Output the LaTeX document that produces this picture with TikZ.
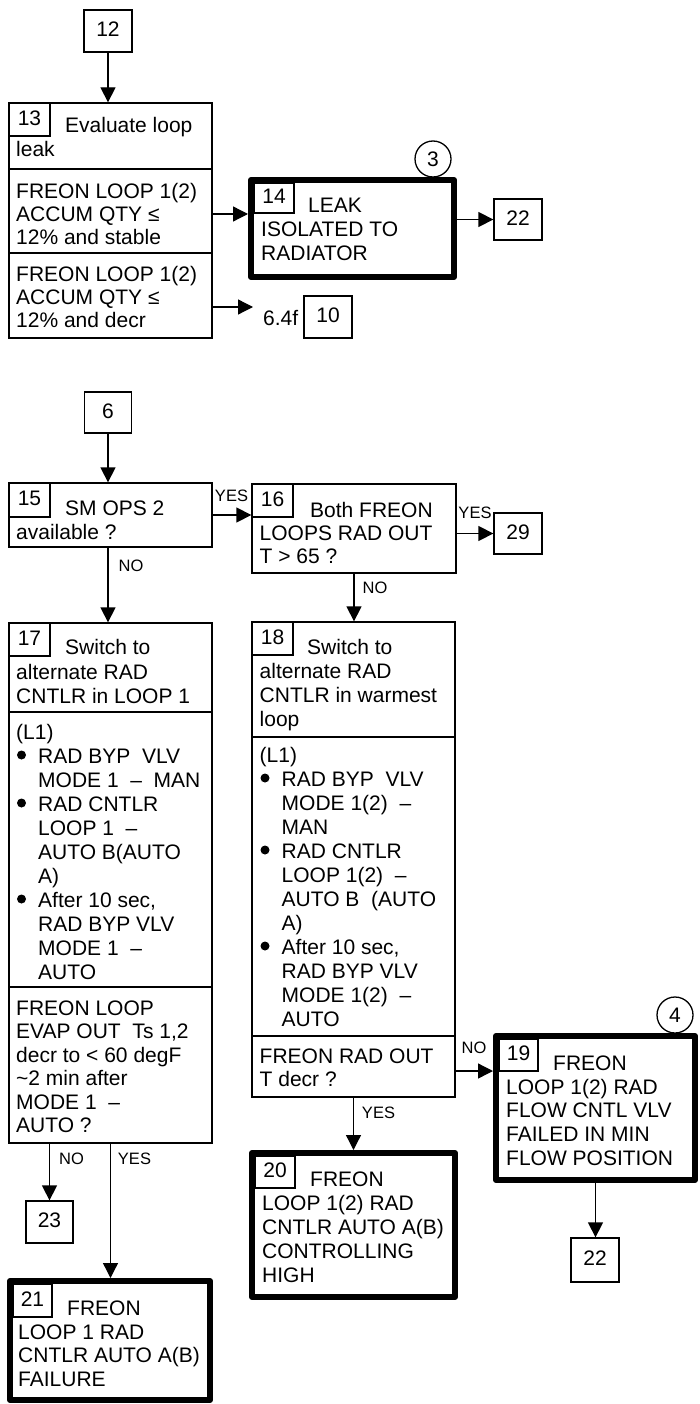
\documentclass[tikz,border=0pt]{standalone}
\usepackage{fontspec}
\setmainfont{Liberation Sans}
\usetikzlibrary{arrows.meta}
\newcommand{\ls}[1]{\begin{tabular}[t]{@{}l@{}}#1\end{tabular}}
\newcommand{\ind}{\hspace*{22pt}}
\begin{document}
\begin{tikzpicture}[x=1pt,y=-1pt,
  font=\fontsize{21}{24}\selectfont,
  box/.style={draw, line width=1.3pt, rectangle, inner sep=0pt, text depth=3pt},
  heavybox/.style={draw, line width=6pt, line join=round, rectangle, inner sep=0pt},
  txt/.style={anchor=base west, inner sep=0pt},
  lbl/.style={font=\fontsize{16.5}{18}\selectfont, inner sep=0pt},
  arr/.style={line width=1.3pt, -{Triangle[length=15pt,width=15pt]}},
  circ/.style={draw, circle, line width=1.3pt, minimum size=36pt, inner sep=0pt},
  dot/.style={fill=black}]
\useasboundingbox (0,0) rectangle (699,1404);
\fill[white] (0,0) rectangle (699,1404);

% ---------- top part ----------
\node[box, minimum width=48pt, minimum height=42pt] (b12) at (108,31) {12};
\node[box, minimum width=203pt, minimum height=66pt] (b13a) at (110.5,136) {};
\node[box, minimum width=203pt, minimum height=84pt] (b13b) at (110.5,211) {};
\node[box, minimum width=203pt, minimum height=85pt] (b13c) at (110.5,295.5) {};
\node[box, minimum width=41pt, minimum height=33pt] (n13) at (29.5,119.5) {13};
\node[txt] (t13a) at (65,133) {Evaluate loop};
\node[txt] (t13a2) at (16,157) {leak};
\node[txt] (t13b) at (16,199) {\fontsize{21}{23}\selectfont\ls{FREON LOOP 1(2)\\ ACCUM QTY ≤\\ 12\% and stable}};
\node[txt] (t13c) at (16,282) {\fontsize{21}{23}\selectfont\ls{FREON LOOP 1(2)\\ ACCUM QTY ≤\\ 12\% and decr}};

\node[circ] (c3) at (433,159) {3};
\node[heavybox, minimum width=203pt, minimum height=97pt] (b14) at (352.5,228.5) {};
\node[box, minimum width=40pt, minimum height=30pt] (n14) at (274,198) {14};
\node[txt] (t14) at (308,213) {LEAK};
\node[txt] (t14b) at (261,237) {\fontsize{21}{23.5}\selectfont\ls{ISOLATED TO\\ RADIATOR}};
\node[box, minimum width=48pt, minimum height=41pt] (b22a) at (518,219.5) {22};

\node[txt] (t64) at (263,325) {6.4f};
\node[box, minimum width=48pt, minimum height=42pt] (b10) at (328,317) {10};
\coordinate (e10) at (253,307);

\draw[arr] (b12.south) -- (b12.south |- b13a.north);
\draw[arr] ([yshift=-3pt]b13b.east) -- ([yshift=-3pt]b13b.east -| b14.west);
\draw[arr] (b13c.east |- e10) -- (e10);
\draw[arr] (b14.east |- b22a.west) -- (b22a.west);

% ---------- lower part ----------
\node[box, minimum width=47pt, minimum height=41pt] (b6) at (108,412.5) {6};
\node[box, minimum width=203pt, minimum height=64pt] (b15) at (110.5,515) {};
\node[box, minimum width=41pt, minimum height=34pt] (n15) at (29.5,500) {15};
\node[txt] (t15) at (65,515) {SM OPS 2};
\node[txt] (t15b) at (16,539) {available ?};

\node[box, minimum width=204pt, minimum height=89pt] (b16) at (354,528.5) {};
\node[box, minimum width=41pt, minimum height=33pt] (n16) at (272.5,500.5) {16};
\node[txt] (t16) at (310,517) {Both FREON};
\node[txt] (t16b) at (259.5,540) {\fontsize{21}{23}\selectfont\ls{LOOPS RAD OUT\\ T > 65 ?}};
\node[box, minimum width=48pt, minimum height=41pt] (b29) at (518,533.5) {29};

% box 17
\node[box, minimum width=203pt, minimum height=89pt] (b17a) at (110.5,667.5) {};
\node[box, minimum width=203pt, minimum height=275pt] (b17b) at (110.5,849.5) {};
\node[box, minimum width=203pt, minimum height=156pt] (b17c) at (110.5,1065) {};
\node[box, minimum width=41pt, minimum height=33pt] (n17) at (29.5,639.5) {17};
\node[txt] (t17) at (65,654) {Switch to};
\node[txt] (t17a) at (16,679) {\ls{alternate RAD\\ CNTLR in LOOP 1}};
\node[txt] (t17b) at (16,739) {\ls{(L1)\\ \ind RAD BYP\ \ VLV\\ \ind MODE 1\ \ –\ \ MAN\\ \ind RAD CNTLR\\ \ind LOOP 1\ \ –\\ \ind AUTO B(AUTO\\ \ind A)\\ \ind After 10 sec,\\ \ind RAD BYP VLV\\ \ind MODE 1\ \ –\\ \ind AUTO}};
\fill[dot] (21.5,755) circle (4.5pt);
\fill[dot] (21.5,803) circle (4.5pt);
\fill[dot] (21.5,899) circle (4.5pt);
\node[txt] (t17c) at (16,1015) {\fontsize{21}{23.5}\selectfont\ls{FREON LOOP\\ EVAP OUT\ \ Ts 1,2\\ decr to < 60 degF\\ \textasciitilde 2 min after\\ MODE 1\ \ –\\ AUTO ?}};

% box 18
\node[box, minimum width=203pt, minimum height=115pt] (b18a) at (353.5,679.5) {};
\node[box, minimum width=203pt, minimum height=299pt] (b18b) at (353.5,886.5) {};
\node[box, minimum width=203pt, minimum height=61pt] (b18c) at (353.5,1066.5) {};
\node[box, minimum width=41pt, minimum height=33pt] (n18) at (272.5,638.5) {18};
\node[txt] (t18) at (307,654) {Switch to};
\node[txt] (t18a) at (259.5,678) {\ls{alternate RAD\\ CNTLR in warmest\\ loop}};
\node[txt] (t18b) at (259.5,762) {\ls{(L1)\\ \ind RAD BYP\ \ VLV\\ \ind MODE 1(2)\ \ –\\ \ind MAN\\ \ind RAD CNTLR\\ \ind LOOP 1(2)\ \ –\\ \ind AUTO B\ \ (AUTO\\ \ind A)\\ \ind After 10 sec,\\ \ind RAD BYP VLV\\ \ind MODE 1(2)\ \ –\\ \ind AUTO}};
\fill[dot] (265,778) circle (4.5pt);
\fill[dot] (265,850) circle (4.5pt);
\fill[dot] (265,946) circle (4.5pt);
\node[txt] (t18c) at (259.5,1063) {\fontsize{21}{23}\selectfont\ls{FREON RAD OUT\\ T decr ?}};

% box 19
\node[circ] (c4) at (675,1015) {4};
\node[heavybox, minimum width=199pt, minimum height=144pt] (b19) at (595.5,1108) {};
\node[box, minimum width=39pt, minimum height=32pt] (n19) at (518.5,1055) {19};
\node[txt] (t19) at (553,1070) {FREON};
\node[txt] (t19b) at (506,1094) {\fontsize{21}{23.7}\selectfont\ls{LOOP 1(2) RAD\\ FLOW CNTL VLV\\ FAILED IN MIN\\ FLOW POSITION}};
\node[box, minimum width=48pt, minimum height=44pt] (b22b) at (595,1260) {22};

% box 20
\node[heavybox, minimum width=203pt, minimum height=144pt] (b20) at (353.5,1225) {};
\node[box, minimum width=40pt, minimum height=32pt] (n20) at (275,1172) {20};
\node[txt] (t20) at (310,1186) {FREON};
\node[txt] (t20b) at (262,1210) {\fontsize{21}{24}\selectfont\ls{LOOP 1(2) RAD\\ CNTLR AUTO A(B)\\ CONTROLLING\\ HIGH}};

% box 23 and 21
\node[box, minimum width=47pt, minimum height=42pt] (b23) at (49.5,1222) {23};
\node[heavybox, minimum width=200pt, minimum height=119pt] (b21) at (110,1340.5) {};
\node[box, minimum width=39pt, minimum height=33pt] (n21) at (32.5,1300.5) {21};
\node[txt] (t21) at (67,1315) {FREON};
\node[txt] (t21b) at (18,1339) {\fontsize{21}{23.7}\selectfont\ls{LOOP 1 RAD\\ CNTLR AUTO A(B)\\ FAILURE}};

% connectors
\draw[arr] (b6.south) -- (b6.south |- b15.north);
\draw[arr] (b15.east) -- (b15.east -| b16.west);
\draw[arr] (b16.east |- b29.west) -- (b29.west);
\draw[arr] (b16.south) -- (b16.south |- b18a.north);
\draw[arr] (b15.south -| b6.south) -- (b17a.north -| b6.south);
\draw[arr] ([yshift=-4.5pt]b18c.east) -- ([yshift=-4.5pt]b18c.east -| b19.west);
\draw[arr] (b19.south) -- (b19.south |- b22b.north);
\draw[arr] (b18c.south) -- (b18c.south |- b20.north);
\draw[arr] (b23.north |- b17c.south) -- (b23.north);
\draw[arr] (b17c.south) -- (b17c.south |- b21.north);

% labels
\node[lbl] (l1) at (231.5,496) {YES};
\node[lbl] (l2) at (475,513) {YES};
\node[lbl] (l3) at (375,587.5) {NO};
\node[lbl] (l4) at (131,566) {NO};
\node[lbl] (l5) at (474,1048) {NO};
\node[lbl] (l6) at (378.5,1112.5) {YES};
\node[lbl] (l7) at (71.5,1159) {NO};
\node[lbl] (l8) at (134.5,1159) {YES};
\end{tikzpicture}
\end{document}
